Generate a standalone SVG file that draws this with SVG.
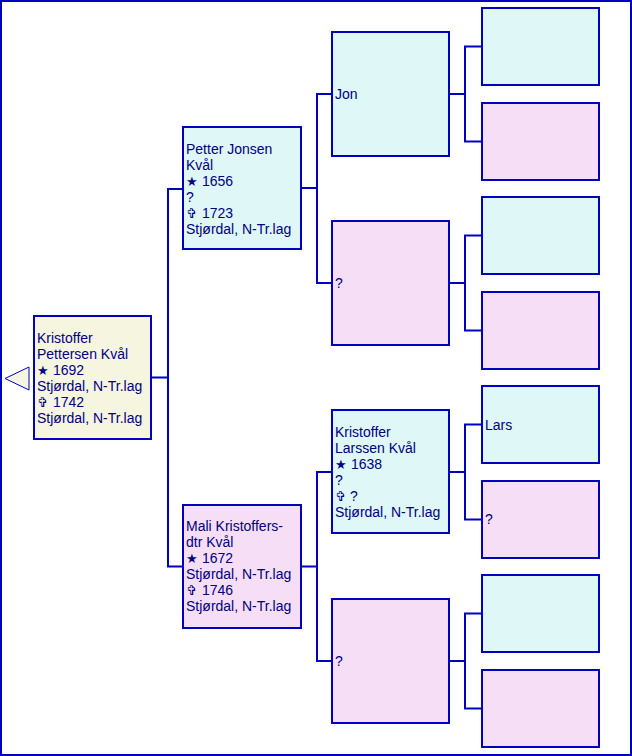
<svg xmlns="http://www.w3.org/2000/svg" width="632" height="756" viewBox="0 0 632 756">
<style>
.frame{fill:#fff;stroke:#0000C0;stroke-width:2}
.box{stroke:#0000C0;stroke-width:2}
.m{fill:#DFF7F7}
.f{fill:#F6DFF6}
.r{fill:#F5F5E0}
.t{font-family:"Liberation Sans",Arial,sans-serif;font-size:14px;fill:#000080}
.sym{font-family:"DejaVu Sans",sans-serif;font-size:13px}
.c{fill:none;stroke:#0000C0;stroke-width:2}
</style>
<rect class="frame" x="1" y="1" width="630" height="754"/>
<g id="connectors">
<polyline class="c" points="152,377.5 168,377.5"/>
<polyline class="c" points="183,189 168,189 168,566.5 183,566.5"/>
<polyline class="c" points="301,188 317,188"/>
<polyline class="c" points="332,94 317,94 317,283 332,283"/>
<polyline class="c" points="301,566.5 317,566.5"/>
<polyline class="c" points="332,472 317,472 317,661 332,661"/>
<polyline class="c" points="450,94 465,94"/>
<polyline class="c" points="482,46.5 465,46.5 465,141.5 482,141.5"/>
<polyline class="c" points="450,283 465,283"/>
<polyline class="c" points="482,235.5 465,235.5 465,330.5 482,330.5"/>
<polyline class="c" points="450,472 465,472"/>
<polyline class="c" points="482,424.5 465,424.5 465,519.5 482,519.5"/>
<polyline class="c" points="450,661 466,661"/>
<polyline class="c" points="482,613.5 465,613.5 465,708.5 482,708.5"/>
</g>
<g id="nav">
<polygon points="5,378.5 29,367 29,390" fill="#F5F5E0" stroke="#0000C0" stroke-width="1"/>
</g>
<g id="root">
<rect class="box r" x="34" y="316" width="117" height="123"/>
<text class="t" x="37" y="343">Kristoffer</text>
<text class="t" x="37" y="359">Pettersen Kvål</text>
<text class="t" x="37" y="375"><tspan class="sym">★</tspan><tspan x="53">1692</tspan></text>
<text class="t" x="37" y="391">Stjørdal, N-Tr.lag</text>
<text class="t" x="37" y="407"><tspan class="sym">✞</tspan><tspan x="53">1742</tspan></text>
<text class="t" x="37" y="423">Stjørdal, N-Tr.lag</text>
</g>
<g id="father">
<rect class="box m" x="183" y="127" width="118" height="122"/>
<text class="t" x="186" y="154">Petter Jonsen</text>
<text class="t" x="186" y="170">Kvål</text>
<text class="t" x="186" y="186"><tspan class="sym">★</tspan><tspan x="202">1656</tspan></text>
<text class="t" x="186" y="202">?</text>
<text class="t" x="186" y="218"><tspan class="sym">✞</tspan><tspan x="202">1723</tspan></text>
<text class="t" x="186" y="234">Stjørdal, N-Tr.lag</text>
</g>
<g id="mother">
<rect class="box f" x="183" y="505" width="118" height="123"/>
<text class="t" x="186" y="531">Mali Kristoffers-</text>
<text class="t" x="186" y="547">dtr Kvål</text>
<text class="t" x="186" y="563"><tspan class="sym">★</tspan><tspan x="202">1672</tspan></text>
<text class="t" x="186" y="579">Stjørdal, N-Tr.lag</text>
<text class="t" x="186" y="595"><tspan class="sym">✞</tspan><tspan x="202">1746</tspan></text>
<text class="t" x="186" y="611">Stjørdal, N-Tr.lag</text>
</g>
<g id="ff">
<rect class="box m" x="332" y="32" width="117" height="124"/>
<text class="t" x="335" y="99">Jon</text>
</g>
<g id="fm">
<rect class="box f" x="332" y="221" width="117" height="124"/>
<text class="t" x="335" y="288">?</text>
</g>
<g id="mf">
<rect class="box m" x="332" y="410" width="117" height="123"/>
<text class="t" x="335" y="437">Kristoffer</text>
<text class="t" x="335" y="453">Larssen Kvål</text>
<text class="t" x="335" y="469"><tspan class="sym">★</tspan><tspan x="351">1638</tspan></text>
<text class="t" x="335" y="485">?</text>
<text class="t" x="335" y="501"><tspan class="sym">✞</tspan><tspan x="350">?</tspan></text>
<text class="t" x="335" y="517">Stjørdal, N-Tr.lag</text>
</g>
<g id="mm">
<rect class="box f" x="332" y="599" width="117" height="124"/>
<text class="t" x="335" y="666">?</text>
</g>
<g id="fff"><rect class="box m" x="482" y="8" width="117" height="77"/></g>
<g id="ffm"><rect class="box f" x="482" y="103" width="117" height="77"/></g>
<g id="fmf"><rect class="box m" x="482" y="197" width="117" height="77"/></g>
<g id="fmm"><rect class="box f" x="482" y="292" width="117" height="77"/></g>
<g id="mff">
<rect class="box m" x="482" y="386" width="117" height="77"/>
<text class="t" x="485" y="430">Lars</text>
</g>
<g id="mfm">
<rect class="box f" x="482" y="481" width="117" height="77"/>
<text class="t" x="485" y="524">?</text>
</g>
<g id="mmf"><rect class="box m" x="482" y="575" width="117" height="77"/></g>
<g id="mmm"><rect class="box f" x="482" y="670" width="117" height="77"/></g>
</svg>
